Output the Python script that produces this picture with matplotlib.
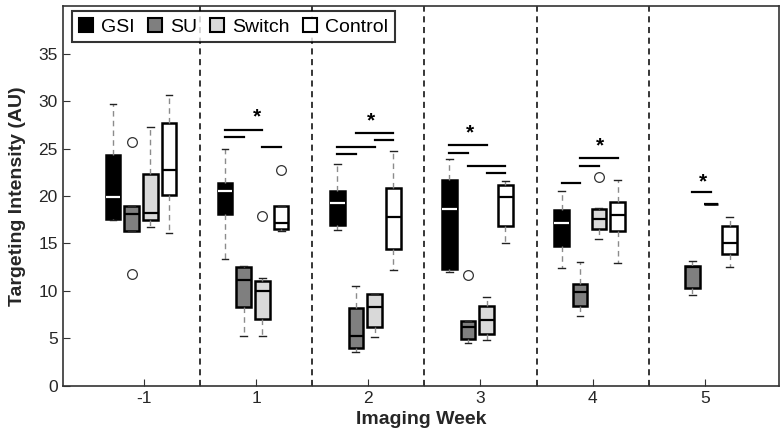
import numpy as np
import matplotlib
matplotlib.use('Agg')
import matplotlib.pyplot as plt
from matplotlib.patches import Patch

plt.rcParams['font.family'] = ['Liberation Sans', 'DejaVu Sans']

# semaines d'imagerie
weeks = ['-1', '1', '2', '3', '4', '5']
groups = ['GSI', 'SU', 'Switch', 'Control']
colors = ['#000000', '#7f7f7f', '#d9d9d9', '#ffffff']
median_colors = ['#ffffff', '#000000', '#000000', '#000000']

# [whislo, q1, med, q3, whishi] par semaine (None = pas de données)
gsi = [[17.5, 17.6, 19.9, 24.3, 29.7],
       [13.4, 18.1, 20.5, 21.4, 25.0],
       [16.4, 17.0, 19.3, 20.5, 23.4],
       [12.0, 12.3, 18.6, 21.7, 23.9],
       [12.4, 14.7, 17.2, 18.5, 20.5],
       None]
su = [[16.3, 16.3, 18.1, 18.95, 18.95],
      [5.2, 8.35, 11.15, 12.55, 12.65],
      [3.6, 3.95, 5.2, 8.2, 10.55],
      [4.5, 4.9, 6.25, 6.8, 6.8],
      [7.35, 8.4, 9.9, 10.7, 13.1],
      [9.6, 10.35, 12.5, 12.65, 13.15]]
switch = [[16.7, 17.5, 18.2, 22.3, 27.3],
          [5.2, 7.0, 10.0, 11.05, 11.4],
          [5.1, 6.25, 8.35, 9.65, 9.7],
          [4.8, 5.5, 6.95, 8.4, 9.4],
          [15.5, 16.5, 17.55, 18.6, 18.7],
          [19.15, 19.15, 19.15, 19.15, 19.15]]
control = [[16.1, 20.1, 22.7, 27.7, 30.6],
           [16.3, 16.5, 17.2, 18.95, 18.95],
           [12.2, 14.4, 17.8, 20.8, 24.75],
           [15.1, 16.8, 19.85, 21.2, 21.6],
           [12.9, 16.35, 18.0, 19.35, 21.7],
           [12.55, 13.9, 15.1, 16.8, 17.8]]

# valeurs aberrantes
gsi_out = [[], [], [], [], [], []]
su_out = [[25.7, 11.8], [], [], [11.7], [], []]
switch_out = [[], [17.9], [], [], [22.0], []]
control_out = [[], [22.7], [], [], [], []]

# barres de significativité : (semaine, groupe a, groupe b, y)
sig_bars = [(1, 0, 2, 27.0), (1, 0, 1, 26.2), (1, 2, 3, 25.2),
            (2, 1, 3, 26.65), (2, 2, 3, 25.95), (2, 0, 2, 25.2), (2, 0, 1, 24.4),
            (3, 0, 2, 25.4), (3, 0, 1, 24.55), (3, 1, 3, 23.15), (3, 2, 3, 22.45),
            (4, 1, 3, 24.05), (4, 1, 2, 23.15), (4, 0, 1, 21.4),
            (5, 1, 2, 20.4)]
# étoiles : (semaine, décalage x, y)
stars = [(1, 0.01, 28.3), (2, 0.02, 27.9), (3, -0.095, 26.6),
         (4, 0.065, 25.25), (5, -0.016, 21.5)]

offsets = [-0.277, -0.111, 0.056, 0.223]
box_w = 0.13

fig = plt.figure(figsize=(7.84, 4.43), dpi=100)
ax = fig.add_axes([0.08, 0.129, 0.914, 0.857])

all_stats = [gsi, su, switch, control]
all_out = [gsi_out, su_out, switch_out, control_out]

for g in range(4):
    stats = []
    pos = []
    for w in range(len(weeks)):
        s = all_stats[g][w]
        if s is None:
            continue
        stats.append(dict(whislo=s[0], q1=s[1], med=s[2], q3=s[3], whishi=s[4],
                          fliers=all_out[g][w]))
        pos.append(w + 1 + offsets[g])
    ax.bxp(stats, positions=pos, widths=box_w, patch_artist=True,
           capwidths=0.06,
           boxprops=dict(facecolor=colors[g], edgecolor='black', linewidth=1.8),
           medianprops=dict(color=median_colors[g], linewidth=1.6),
           whiskerprops=dict(color='#8c8c8c', linestyle=(0, (4, 3)), linewidth=1.0),
           capprops=dict(color='#222222', linewidth=1.0),
           flierprops=dict(marker='o', markerfacecolor='none', markeredgecolor='#333333',
                           markersize=7, markeredgewidth=0.9),
           zorder=3)

for w, a, b, y in sig_bars:
    ax.plot([w + 1 + offsets[a], w + 1 + offsets[b]], [y, y], color='black', lw=1.6)

for w, dx, y in stars:
    ax.text(w + 1 + dx, y, '*', ha='center', va='center', fontsize=15, fontweight='bold')

for b in np.arange(1.5, len(weeks), 1.0):
    ax.axvline(b, color='black', linestyle=(0, (4, 3)), linewidth=1.1, zorder=1)

ax.set_xlim(0.275, 6.665)
ax.set_ylim(0, 40)
ax.set_xticks(np.arange(1, len(weeks) + 1))
ax.set_xticklabels(weeks)
ax.set_xticks(np.arange(1.5, len(weeks), 1.0), minor=True)
ax.set_yticks(np.arange(0, 36, 5))
ax.tick_params(axis='both', which='major', direction='in', length=5, labelsize=12.5,
               colors='#333333', labelcolor='#262626')
ax.tick_params(axis='x', which='minor', direction='in', length=3, colors='#333333')
for sp in ax.spines.values():
    sp.set_color('#333333')
    sp.set_linewidth(1.2)

ax.set_xlabel('Imaging Week', fontsize=14, fontweight='bold', color='#262626', labelpad=4)
ax.set_ylabel('Targeting Intensity (AU)', fontsize=14, fontweight='bold', color='#262626', labelpad=9)

handles = [Patch(facecolor=c, edgecolor='black', linewidth=1.5, label=l)
           for c, l in zip(colors, groups)]
leg = ax.legend(handles=handles, loc='upper left', ncol=4, fontsize=14, frameon=True,
                fancybox=False, edgecolor='black', handlelength=0.72, handleheight=0.72,
                handletextpad=0.4, columnspacing=0.7, borderpad=0.35, borderaxespad=0,
                bbox_to_anchor=(0.013, 0.987))
leg.get_frame().set_linewidth(1.5)

fig.savefig('out.png', dpi=100)
